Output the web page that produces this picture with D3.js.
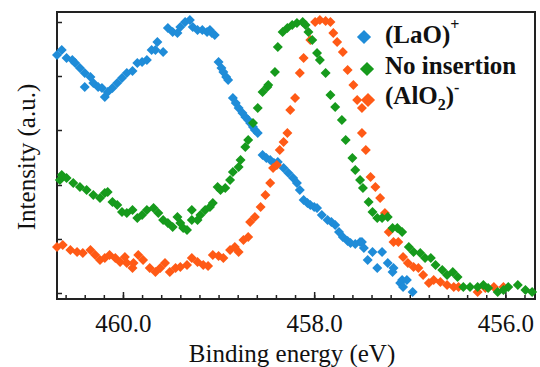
<!DOCTYPE html>
<html>
<head>
<meta charset="utf-8">
<script src="https://cdn.jsdelivr.net/npm/d3@7"></script>
<style>
  body { margin: 0; background: #fff; }
  svg { display: block; }
</style>
</head>
<body>
<figure id="xps" style="margin:0"></figure>
<script>
// [binding energy (eV), intensity (a.u.)]
const lao = [
  [460.69,238],[460.64,243],[460.59,235],[460.53,233],[460.50,230],[460.45,225],[460.40,220],[460.34,216],
  [460.40,206],[460.31,210],[460.26,206],[460.22,205],[460.19,196],[460.16,201],[460.11,205],[460.06,210],
  [460.01,215],[459.96,220],[459.90,222],[459.85,230],[459.80,231],[459.75,233],[459.70,243],[459.64,251],
  [459.66,243],[459.58,241],[459.53,265],[459.48,261],[459.43,260],[459.40,266],[459.35,271],[459.30,273],
  [459.27,266],[459.22,263],[459.17,263],[459.12,261],[459.09,263],[459.07,260],[459.04,258],[459.00,231],
  [458.97,225],[458.95,221],[458.92,216],[458.90,213],[458.85,195],[458.82,190],[458.79,185],[458.75,180],
  [458.72,176],[458.69,173],[458.67,170],[458.64,166],[458.62,163],[458.59,160],[458.54,138],[458.50,135],
  [458.46,133],[458.42,130],[458.38,131],[458.32,125],[458.27,120],[458.22,115],[458.18,110],[458.15,103],
  [458.11,93],[458.07,90],[458.04,88],[458.00,86],[457.97,85],[457.92,78],[457.86,73],[457.82,71],
  [457.78,68],[457.74,61],[457.70,56],[457.65,52],[457.62,50],[457.57,49],[457.52,51],[457.50,51],
  [457.48,45],[457.44,33],[457.39,41],[457.34,25],[457.29,41],[457.23,30],[457.18,21],[457.17,25],
  [457.10,10],[457.08,13],[457.03,13],[457.07,6],[456.97,1]
];
const noIns = [
  [460.66,113],[460.64,118],[460.59,115],[460.52,110],[460.45,106],[460.38,103],[460.31,98],[460.24,95],
  [460.19,100],[460.16,101],[460.11,91],[460.06,88],[460.01,81],[459.96,80],[459.90,83],[459.85,75],
  [459.80,78],[459.75,83],[459.68,85],[459.63,80],[459.58,73],[459.53,70],[459.48,66],[459.43,76],
  [459.40,70],[459.37,65],[459.33,63],[459.28,83],[459.28,73],[459.22,73],[459.19,78],[459.14,83],
  [459.09,86],[459.06,90],[459.01,106],[458.98,103],[458.93,105],[458.88,113],[458.85,121],[458.79,126],
  [458.77,133],[458.72,146],[458.69,153],[458.64,170],[458.59,185],[458.54,201],[458.49,206],[458.48,208],
  [458.41,221],[458.38,246],[458.33,261],[458.28,265],[458.23,268],[458.18,270],[458.12,271],[458.09,268],
  [458.06,261],[458.02,253],[457.97,240],[457.94,233],[457.88,220],[457.83,198],[457.78,186],[457.71,173],
  [457.67,153],[457.60,135],[457.57,123],[457.52,113],[457.49,105],[457.43,91],[457.39,81],[457.34,75],
  [457.29,75],[457.23,76],[457.18,65],[457.13,65],[457.08,61],[457.01,46],[456.96,41],[456.89,40],
  [456.84,35],[456.78,35],[456.73,28],[456.66,23],[456.61,18],[456.55,21],[456.50,16],[456.44,6],
  [456.37,6],[456.29,6],[456.23,8],[456.18,5],[456.08,1],[456.02,3],[455.97,6],[455.87,8],
  [455.79,3],[455.72,1]
];
const alo2 = [
  [460.69,46],[460.63,48],[460.55,43],[460.48,41],[460.42,40],[460.34,43],[460.29,38],[460.24,33],
  [460.19,35],[460.14,38],[460.08,35],[460.03,31],[459.98,36],[459.96,30],[459.90,25],[459.89,30],
  [459.84,38],[459.79,33],[459.72,25],[459.66,21],[459.61,25],[459.56,30],[459.51,21],[459.45,25],
  [459.40,26],[459.33,28],[459.28,35],[459.22,31],[459.16,28],[459.11,27],[459.06,38],[459.00,37],
  [458.95,35],[458.88,43],[458.83,46],[458.79,41],[458.74,53],[458.69,56],[458.67,71],[458.62,76],
  [458.56,86],[458.51,98],[458.46,110],[458.43,125],[458.39,128],[458.36,143],[458.32,151],[458.28,160],
  [458.25,183],[458.20,195],[458.15,220],[458.11,235],[458.04,253],[457.99,271],[457.94,273],[457.88,272],
  [457.83,271],[457.80,260],[457.76,251],[457.70,241],[457.65,223],[457.59,208],[457.55,193],[457.50,185],
  [457.50,160],[457.46,143],[457.41,116],[457.36,106],[457.31,95],[457.26,80],[457.22,61],[457.17,51],
  [457.12,51],[457.07,36],[457.02,30],[456.96,26],[456.91,25],[456.86,18],[456.80,10],[456.75,13],
  [456.68,11],[456.61,8],[456.54,6],[456.49,6],[456.29,1],[456.21,5],[456.12,6],[456.02,6]
];

const seriesNames = ["(LaO)", "No insertion", "(AlO"];
const seriesColors = ["#1f8cd8", "#169a1c", "#ff5a16"];
const xMajorTicks = [460, 458, 456];
const yTicks = [0, 54, 108, 163, 217, 271];

const width = 540, height = 367;
const plot = { left: 57, right: 535, top: 12, bottom: 299 };
const serif = "'Liberation Serif'";

const svg = d3.select("figure#xps")
  .append("svg")
  .attr("width", width)
  .attr("height", height);

const x = d3.scaleLinear().domain([460.69, 455.69]).range([plot.left, plot.right]);
const y = d3.scaleLinear().domain([-6, 281]).range([plot.bottom, plot.top]);

// minor ticks every 0.2 eV
const xMinor = d3.range(4558, 4607, 2).map(v => v / 10);

svg.append("g")
  .attr("transform", "translate(0," + plot.bottom + ")")
  .call(d3.axisBottom(x).tickValues(xMinor).tickSize(-4).tickFormat(""))
  .call(g => g.select(".domain").remove())
  .selectAll("line").attr("stroke", "#222").attr("stroke-width", 1.5);

const xAxis = svg.append("g")
  .attr("transform", "translate(0," + plot.bottom + ")")
  .call(d3.axisBottom(x).tickValues(xMajorTicks).tickSize(-7).tickFormat(d3.format(".1f")))
  .call(g => g.select(".domain").remove());
xAxis.selectAll("line").attr("stroke", "#222").attr("stroke-width", 1.5);
xAxis.selectAll("text")
  .attr("y", 33).attr("dy", 0)
  .style("font-family", serif)
  .style("font-size", "25px")
  .style("fill", "#111");

svg.append("g")
  .attr("transform", "translate(" + plot.left + ",0)")
  .call(d3.axisLeft(y).tickValues(yTicks).tickSize(-5).tickFormat(""))
  .call(g => g.select(".domain").remove())
  .selectAll("line").attr("stroke", "#222").attr("stroke-width", 1.5);

// frame
svg.append("rect")
  .attr("x", plot.left).attr("y", plot.top)
  .attr("width", plot.right - plot.left).attr("height", plot.bottom - plot.top)
  .attr("fill", "none").attr("stroke", "#222").attr("stroke-width", 2);

const diamond = d3.symbol().type(d3.symbolSquare).size(50);

function drawSeries(data, color) {
  svg.append("g").selectAll("path")
    .data(data)
    .enter()
    .append("path")
    .attr("d", diamond)
    .attr("transform", d => "translate(" + x(d[0]) + "," + y(d[1]) + ") rotate(45)")
    .attr("fill", color);
}
drawSeries(lao, seriesColors[0]);
drawSeries(alo2, seriesColors[2]);
drawSeries(noIns, seriesColors[1]);

// legend
const legendPos = [[364, 37], [367, 69], [368, 100]];
const bigDiamond = d3.symbol().type(d3.symbolSquare).size(100);
legendPos.forEach((p, i) => {
  svg.append("path")
    .attr("d", bigDiamond)
    .attr("transform", "translate(" + p[0] + "," + p[1] + ") rotate(45)")
    .attr("fill", seriesColors[i]);
});

function legendText(yPos) {
  return svg.append("text").attr("x", 385).attr("y", yPos)
    .style("font-family", serif)
    .style("font-weight", "bold")
    .style("font-size", "25px")
    .style("fill", "#111");
}
const t0 = legendText(43);
t0.append("tspan").text(seriesNames[0]);
t0.append("tspan").attr("dy", -13).style("font-size", "16px").text("+");

legendText(74).text(seriesNames[1]);

const t2 = legendText(104);
t2.append("tspan").text(seriesNames[2]);
t2.append("tspan").attr("dy", 6).style("font-size", "16px").text("2");
t2.append("tspan").attr("dy", -6).text(")");
t2.append("tspan").attr("dy", -11).style("font-size", "16px").text("-");

// axis titles
svg.append("text")
  .attr("x", 292).attr("y", 362)
  .attr("text-anchor", "middle")
  .style("font-family", serif)
  .style("font-size", "25px")
  .style("fill", "#111")
  .text("Binding energy (eV)");

svg.append("text")
  .attr("transform", "translate(35,157) rotate(-90)")
  .attr("text-anchor", "middle")
  .style("font-family", serif)
  .style("font-size", "25px")
  .style("fill", "#111")
  .text("Intensity (a.u.)");
</script>
</body>
</html>
